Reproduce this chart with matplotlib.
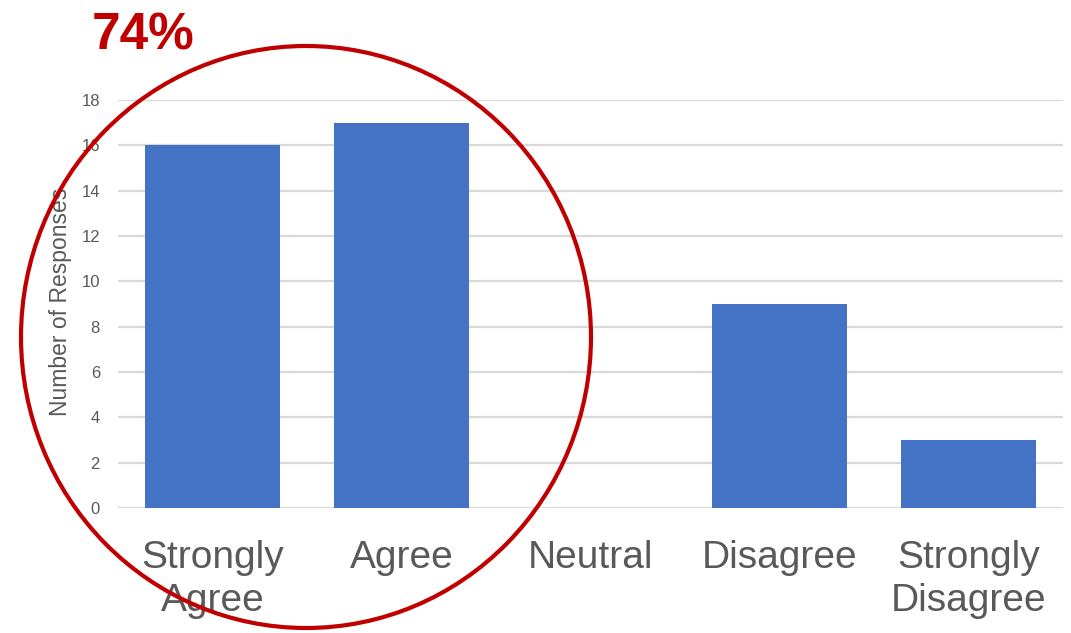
import matplotlib
matplotlib.use("Agg")
import matplotlib.pyplot as plt
from matplotlib.patches import Ellipse

plt.rcParams['font.family'] = ['Liberation Sans', 'DejaVu Sans']

categories = ["Strongly\nAgree", "Agree", "Neutral", "Disagree", "Strongly\nDisagree"]
responses = [16, 17, 0, 9, 3]
y_ticks = [0, 2, 4, 6, 8, 10, 12, 14, 16, 18]
highlight_label = "74%"

W, H = 1071, 633
fig = plt.figure(figsize=(W / 100, H / 100), dpi=100)
ax = fig.add_axes([118 / W, (H - 508) / H, (1063 - 118) / W, (508 - 100) / H])

x = range(len(categories))
ax.bar(x, responses, width=0.715, color="#4472C4", zorder=3)

ax.set_xlim(-0.5, len(categories) - 0.5)
ax.set_ylim(0, 18)
ax.set_yticks(y_ticks)
ax.set_xticks(list(x))
ax.set_xticklabels(categories, fontsize=28, color="#595959", linespacing=1.25)
ax.tick_params(axis='x', length=0, pad=23)
ax.tick_params(axis='y', length=0, pad=13, labelsize=12, labelcolor="#595959")

ax.grid(axis='y', color="#D9D9D9", linewidth=1.6, zorder=0)
ax.set_axisbelow(True)
for side in ["top", "right", "left", "bottom"]:
    ax.spines[side].set_visible(False)

ax.set_ylabel("Number of Responses", fontsize=16.5, color="#595959")
ax.yaxis.set_label_coords(-(118 - 72) / (1063 - 118), 0.505)

# red highlight ring around the agreeing categories
ring = Ellipse((306 / W, (H - 337) / H), 570 / W, 582 / H,
               transform=fig.transFigure, fill=False,
               edgecolor="#C00000", linewidth=3.0, zorder=10)
fig.add_artist(ring)

fig.text(92 / W, (H - 50) / H, highlight_label, fontsize=37, fontweight='bold',
         color="#C00000", ha='left', va='baseline')

fig.savefig("out.png", dpi=100)
